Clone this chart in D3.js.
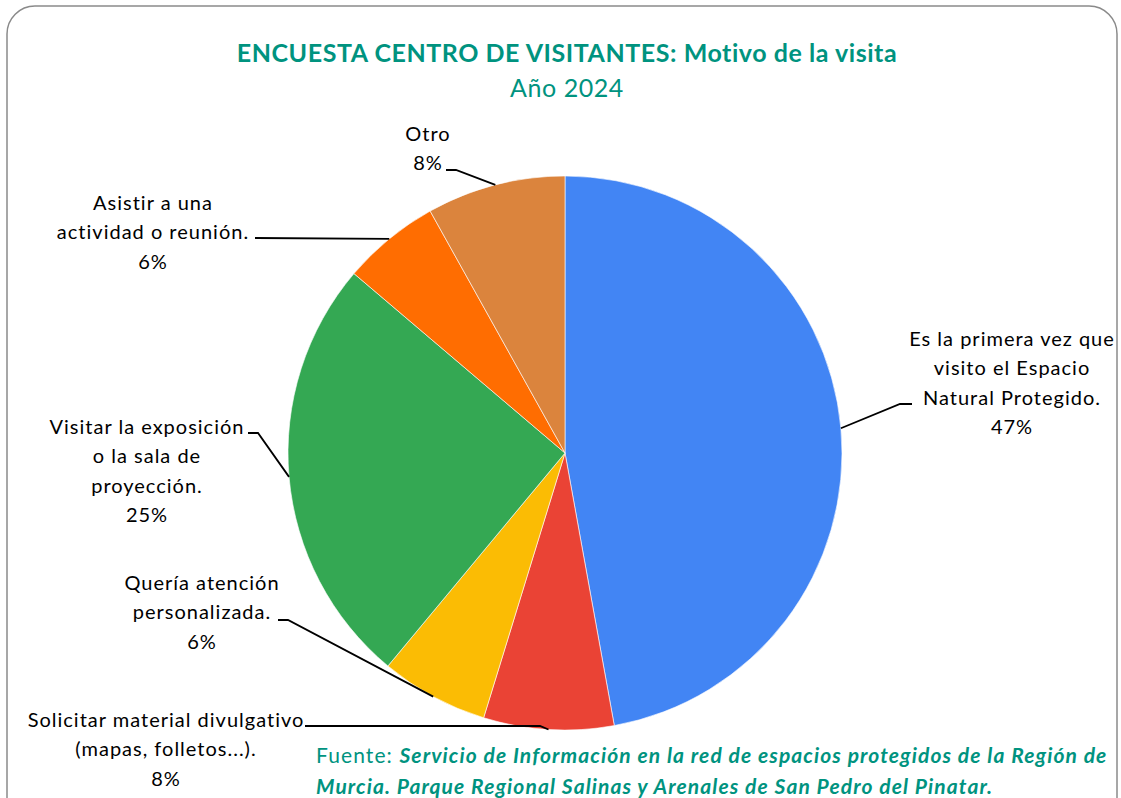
<!DOCTYPE html>
<html>
<head>
<meta charset="utf-8">
<script src="https://cdn.jsdelivr.net/npm/d3@7"></script>
<style>
  body { margin: 0; background: #fff; }
  svg { display: block; font-family: Lato, "Open Sans", sans-serif; }
  .lbl { font-size: 20px; fill: #000; letter-spacing: 1px; }
  .title { font-size: 25px; fill: #00937f; letter-spacing: 0.55px; }
  .foot { font-size: 21px; fill: #00937f; letter-spacing: 1.1px; }
</style>
</head>
<body>
<svg width="1121" height="798"></svg>
<script>
// data
const categories = [
  'Es la primera vez que visito el Espacio Natural Protegido.',
  'Solicitar material divulgativo (mapas, folletos...).',
  'Quería atención personalizada.',
  'Visitar la exposición o la sala de proyección.',
  'Asistir a una actividad o reunión.',
  'Otro'
];
const values = [47.2, 7.6, 6.3, 25.2, 5.7, 8.1];
const colors = ['#4285f4', '#ea4335', '#fbbc04', '#34a853', '#ff6d01', '#db843d'];
// wrapped label lines
const labelLines = [
  ['Es la primera vez que', 'visito el Espacio', 'Natural Protegido.'],
  ['Solicitar material divulgativo', '(mapas, folletos...).'],
  ['Quería atención', 'personalizada.'],
  ['Visitar la exposición', 'o la sala de', 'proyección.'],
  ['Asistir a una', 'actividad o reunión.'],
  ['Otro']
];

// label layout: text centre x, first baseline y, leader start x, elbow x, leader y
const labelPos = [
  { x: 1012, y: 346, lx: 912, ex: 900, ly: 404 },
  { x: 166, y: 727, lx: 305, ex: 540, ly: 726 },
  { x: 202, y: 590, lx: 278, ex: 288, ly: 620 },
  { x: 147, y: 434, lx: 248, ex: 258, ly: 433 },
  { x: 153, y: 210, lx: 255, ex: 255, ly: 238 },
  { x: 428, y: 141, lx: 446, ex: 456, ly: 170 }
];

const svg = d3.select('svg');
const cx = 565, cy = 453, radius = 277;
const lineH = 29.3;

// chart frame
svg.append('rect')
  .attr('x', 7).attr('y', 6)
  .attr('width', 1110).attr('height', 820)
  .attr('rx', 28).attr('ry', 28)
  .attr('fill', '#fff')
  .attr('stroke', '#8a8a8a')
  .attr('stroke-width', 1.5);

// title
svg.append('text')
  .attr('class', 'title')
  .attr('x', 567).attr('y', 62)
  .attr('text-anchor', 'middle')
  .attr('font-weight', 'bold')
  .text('ENCUESTA CENTRO DE VISITANTES: Motivo de la visita');

svg.append('text')
  .attr('class', 'title')
  .attr('x', 567).attr('y', 97)
  .attr('text-anchor', 'middle')
  .text('Año 2024');

const data = categories.map((c, i) => ({ name: c, value: values[i], i }));
const total = d3.sum(values);

const pie = d3.pie().sort(null).value(d => d.value);
const arc = d3.arc().innerRadius(0).outerRadius(radius);
const arcs = pie(data);

const g = svg.append('g')
  .attr('transform', `translate(${cx},${cy})`);

g.selectAll('path.slice').data(arcs)
  .enter().append('path')
  .attr('class', 'slice')
  .attr('d', arc)
  .attr('fill', d => colors[d.data.i])
  .attr('stroke', '#fff')
  .attr('stroke-width', 0.6);

// leader lines
const edgePoint = d => {
  const a = (d.startAngle + d.endAngle) / 2;
  return [cx + radius * Math.sin(a), cy - radius * Math.cos(a)];
};

svg.selectAll('path.leader').data(arcs)
  .enter().append('path')
  .attr('class', 'leader')
  .attr('d', d => {
    const p = labelPos[d.data.i];
    const e = edgePoint(d);
    return `M${p.lx},${p.ly}H${p.ex}L${e[0]},${e[1]}`;
  })
  .attr('fill', 'none')
  .attr('stroke', '#000')
  .attr('stroke-width', 1.8);

// labels
arcs.forEach(d => {
  const p = labelPos[d.data.i];
  const lines = labelLines[d.data.i].concat([Math.round(d.data.value / total * 100) + '%']);
  const t = svg.append('text')
    .attr('class', 'lbl')
    .attr('text-anchor', 'middle');
  lines.forEach((l, k) => {
    t.append('tspan')
      .attr('x', p.x)
      .attr('y', p.y + k * lineH)
      .text(l);
  });
});

// source note
const f1 = svg.append('text').attr('class', 'foot').attr('x', 316).attr('y', 763);
f1.append('tspan').text('Fuente: ');
f1.append('tspan').attr('font-weight', 'bold').attr('font-style', 'italic')
  .text('Servicio de Información en la red de espacios protegidos de la Región de');
svg.append('text').attr('class', 'foot').attr('x', 316).attr('y', 794)
  .attr('font-weight', 'bold').attr('font-style', 'italic')
  .text('Murcia. Parque Regional Salinas y Arenales de San Pedro del Pinatar.');
</script>
</body>
</html>
